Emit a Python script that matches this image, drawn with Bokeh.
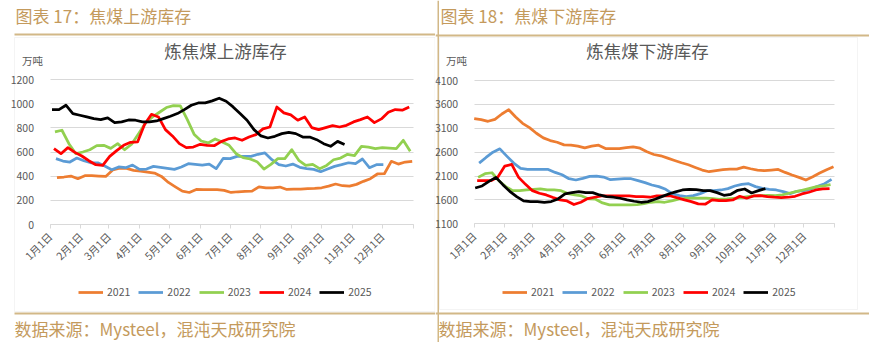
import pandas as pd
from bokeh.plotting import figure
from bokeh.models import Range1d, FixedTicker, Label, BoxAnnotation, Legend, LegendItem
from bokeh.layouts import row
from bokeh.embed import file_html
from bokeh.resources import INLINE

# ---------------- data ----------------
years = ["2021", "2022", "2023", "2024", "2025"]
colors = ["#ED7D31", "#5B9BD5", "#92D050", "#FF0000", "#000000"]

month_ticks = [0, 31, 59, 90, 120, 151, 181, 212, 243, 273, 304, 334, 365]
month_labels = ["1月1日", "2月1日", "3月1日", "4月1日", "5月1日", "6月1日",
                "7月1日", "8月1日", "9月1日", "10月1日", "11月1日", "12月1日", ""]

# 炼焦煤上游库存 (万吨), weekly
up_start = ["2021-01-08", "2022-01-07", "2023-01-06", "2024-01-05", "2025-01-03"]
up_2021 = [387, 393, 401, 379, 404, 404, 401, 398, 451, 467, 464, 448, 442, 434, 426, 398,
           348, 312, 276, 265, 290, 288, 288, 288, 282, 265, 271, 274, 276, 312, 304, 304,
           310, 290, 293, 293, 296, 299, 304, 318, 335, 321, 318, 332, 357, 379, 418, 420,
           523, 500, 517, 523]
up_2022 = [545, 525, 517, 550, 528, 511, 511, 484, 453, 476, 470, 492, 456, 459, 481, 473,
           464, 456, 476, 503, 498, 492, 500, 462, 547, 545, 564, 564, 564, 581, 592, 536,
           495, 484, 500, 473, 462, 456, 437, 459, 481, 495, 511, 503, 542, 470, 495, 495]
up_2023 = [766, 780, 669, 586, 600, 619, 653, 655, 630, 669, 619, 664, 752, 840, 890, 929,
           968, 984, 982, 868, 744, 691, 675, 708, 683, 655, 586, 553, 542, 520, 459, 498,
           545, 545, 619, 531, 489, 498, 462, 489, 536, 550, 581, 570, 647, 641, 628, 636,
           633, 628, 697, 606]
up_2024 = [628, 586, 636, 597, 567, 528, 495, 489, 564, 611, 655, 680, 683, 827, 912, 890,
           785, 733, 669, 636, 641, 664, 655, 652, 686, 708, 716, 697, 724, 744, 791, 807,
           973, 924, 907, 863, 890, 802, 785, 802, 818, 807, 821, 849, 868, 890, 843, 874,
           929, 951, 946, 973]
up_2025 = [951, 951, 987, 918, 904, 890, 876, 868, 882, 843, 849, 865, 863, 849, 849, 857,
           876, 896, 918, 951, 987, 1006, 1006, 1023, 1045, 1020, 973, 918, 863, 785, 733, 716,
           730, 752, 763, 752, 724, 724, 702, 669, 647, 688, 663]

# 炼焦煤下游库存 (万吨), weekly
down_start = ["2021-01-01", "2022-01-06", "2023-01-05", "2024-01-04", "2025-01-02"]
down_2021 = [3301, 3280, 3246, 3287, 3398, 3489, 3336, 3204, 3114, 2996, 2899, 2843, 2808,
             2753, 2746, 2725, 2690, 2725, 2746, 2676, 2676, 2676, 2697, 2711, 2683, 2607,
             2551, 2524, 2475, 2426, 2378, 2336, 2280, 2225, 2190, 2211, 2232, 2246, 2246,
             2287, 2253, 2225, 2211, 2225, 2239, 2176, 2121, 2072, 2017, 2086, 2162, 2232, 2294]
down_2022 = [2371, 2489, 2600, 2669, 2517, 2371, 2260, 2239, 2239, 2239, 2239, 2176, 2128,
             2044, 2017, 2051, 2093, 2100, 2079, 2024, 2037, 2044, 2044, 2003, 1961, 1912,
             1878, 1822, 1725, 1690, 1669, 1690, 1732, 1794, 1794, 1808, 1836, 1892, 1926,
             1940, 1878, 1843, 1822, 1808, 1774, 1732, 1780, 1794, 1829, 1885, 1940, 2030]
down_2023 = [2072, 2149, 2169, 2003, 1878, 1794, 1794, 1808, 1822, 1829, 1808, 1808, 1794,
             1732, 1704, 1683, 1621, 1614, 1537, 1496, 1496, 1496, 1496, 1503, 1524, 1551,
             1565, 1551, 1579, 1614, 1635, 1635, 1635, 1635, 1628, 1614, 1621, 1635, 1649,
             1669, 1683, 1690, 1697, 1690, 1704, 1739, 1774, 1808, 1843, 1878, 1892, 1919]
down_2024 = [2003, 2003, 2003, 2079, 2308, 2343, 2072, 1926, 1794, 1739, 1704, 1649, 1600,
             1579, 1503, 1551, 1628, 1656, 1683, 1683, 1683, 1683, 1683, 1669, 1669, 1656,
             1683, 1683, 1683, 1642, 1600, 1565, 1517, 1510, 1600, 1586, 1586, 1600, 1676,
             1635, 1683, 1690, 1669, 1656, 1649, 1656, 1676, 1725, 1760, 1808, 1829, 1836]
down_2025 = [1850, 1892, 1989, 2072, 1919, 1780, 1669, 1579, 1565, 1565, 1551, 1565, 1621,
             1725, 1753, 1774, 1753, 1753, 1704, 1669, 1656, 1635, 1600, 1572, 1551, 1565,
             1614, 1669, 1725, 1767, 1808, 1822, 1815, 1794, 1794, 1753, 1697, 1718, 1801,
             1829, 1746, 1794, 1836]

up_series = [up_2021, up_2022, up_2023, up_2024, up_2025]
down_series = [down_2021, down_2022, down_2023, down_2024, down_2025]

FONT = "Noto Sans CJK SC"
GOLD_TXT = "#C49A5C"
GOLD_LINE = "#D2B887"
GRAY_TXT = "#595959"
GRID = "#D9D9D9"
H = 342


def day_positions(start, n):
    d = pd.date_range(start, periods=n, freq="7D")
    return list(d.dayofyear - 1)


def sy(y):
    # canvas (top-down) -> screen (bottom-up)
    return H - y


def box(p, x0, x1, y0, y1, fill=None, line=None):
    p.add_layout(BoxAnnotation(left=x0, right=x1, top=sy(y0), bottom=sy(y1),
                               left_units="screen", right_units="screen",
                               top_units="screen", bottom_units="screen",
                               fill_color=fill if fill else "white",
                               fill_alpha=1 if fill else 0,
                               line_color=line, line_width=1, level="underlay"))


def text(p, x, y, s, size, color, align="left"):
    p.add_layout(Label(x=x, y=sy(y), x_units="screen", y_units="screen", text=s,
                       text_font=FONT, text_font_size=size, text_color=color,
                       text_align=align, text_baseline="middle"))


def make_panel(width, series, starts, y0, y1, ystep, px_x0, px_x1, px_yb, px_yt, deco):
    # map pixel placement of the plot area onto the full-canvas frame
    xs = 365.0 / (px_x1 - px_x0)
    ys = (y1 - y0) / (px_yb - px_yt)
    xr = Range1d(-px_x0 * xs, (width - px_x0) * xs)
    yr = Range1d(y0 - (H - px_yb) * ys, y0 + px_yb * ys)
    p = figure(width=width, height=H, output_backend="svg", toolbar_location=None,
               x_range=xr, y_range=yr, min_border=0)
    p.title.visible = False
    p.outline_line_color = None
    p.background_fill_color = "white"
    p.border_fill_color = "white"
    p.xgrid.grid_line_color = None
    p.ygrid.grid_line_color = GRID
    p.ygrid.grid_line_width = 1
    p.ygrid.cross_bounds = (0, 365)

    p.xaxis.fixed_location = y0
    p.xaxis.bounds = (0, 365)
    p.xaxis.ticker = FixedTicker(ticks=month_ticks)
    p.xaxis.major_label_overrides = {t: l for t, l in zip(month_ticks, month_labels)}
    p.xaxis.major_label_orientation = 0.785398
    p.xaxis.axis_line_color = GRID
    p.xaxis.major_tick_line_color = GRID
    p.xaxis.major_tick_out = 4
    p.xaxis.major_tick_in = 0
    p.xaxis.minor_tick_line_color = None
    p.xaxis.major_label_text_font = FONT
    p.xaxis.major_label_text_font_size = "10.5px"
    p.xaxis.major_label_text_color = GRAY_TXT
    p.xaxis.major_label_standoff = 6

    p.yaxis.fixed_location = 0
    p.yaxis.bounds = (y0, y1)
    p.yaxis.ticker = FixedTicker(ticks=list(range(y0, y1 + 1, ystep)))
    p.yaxis.axis_line_color = None
    p.yaxis.major_tick_line_color = None
    p.yaxis.minor_tick_line_color = None
    p.yaxis.major_label_text_font = FONT
    p.yaxis.major_label_text_font_size = "10.5px"
    p.yaxis.major_label_text_color = GRAY_TXT
    p.yaxis.major_label_standoff = 10

    items = []
    for yr_, col, vals, st in zip(years, colors, series, starts):
        r = p.line(day_positions(st, len(vals)), vals, line_color=col, line_width=2.75,
                   line_join="round")
        items.append(LegendItem(label=yr_, renderers=[r]))

    leg = Legend(items=items, orientation="horizontal",
                 location=(deco["legend_x"], H - 299),
                 label_text_font=FONT, label_text_font_size="10.5px",
                 label_text_color=GRAY_TXT, glyph_width=25, glyph_height=14,
                 label_height=14, label_standoff=4, spacing=8, padding=0, margin=0,
                 border_line_color=None, background_fill_alpha=0)
    p.add_layout(leg)

    bx0, bx1, by0, by1 = deco["box"]
    box(p, bx0, bx1, by0, by1, line=GRID)
    for (lx0, lx1, ly0, ly1) in deco["gold"]:
        box(p, lx0, lx1, ly0, ly1, fill=GOLD_LINE)
    text(p, deco["hx"], 15, deco["header"], "17px", GOLD_TXT)
    text(p, deco["fx"], 328, "数据来源：Mysteel，混沌天成研究院", "17px", GOLD_TXT)
    text(p, deco["tx"], 50, deco["title"], "17.5px", GRAY_TXT, "center")
    text(p, deco["ux"], 60, "万吨", "10.5px", GRAY_TXT, "center")
    return p


p1 = make_panel(435, up_series, up_start, 0, 1200, 200, 49.5, 412.7, 224, 79,
                {"box": (14, 434.5, 37, 311),
                 "gold": [(14, 435, 33, 35), (14, 435, 312, 314)],
                 "hx": 15, "fx": 14, "header": "图表 17：焦煤上游库存",
                 "title": "炼焦煤上游库存", "tx": 225, "ux": 32, "legend_x": 78})
p2 = make_panel(434, down_series, down_start, 1100, 4100, 500, 38.7, 399, 223.3, 80,
                {"box": (4, 422, 37, 309),
                 "gold": [(0, 434, 34, 36), (0, 434, 312, 314), (2, 3.5, 0, 342)],
                 "hx": 5, "fx": 3, "header": "图表 18：焦煤下游库存",
                 "title": "炼焦煤下游库存", "tx": 212, "ux": 21, "legend_x": 67})

layout = row(p1, p2)
open("out.html", "w").write(file_html(layout, INLINE))
